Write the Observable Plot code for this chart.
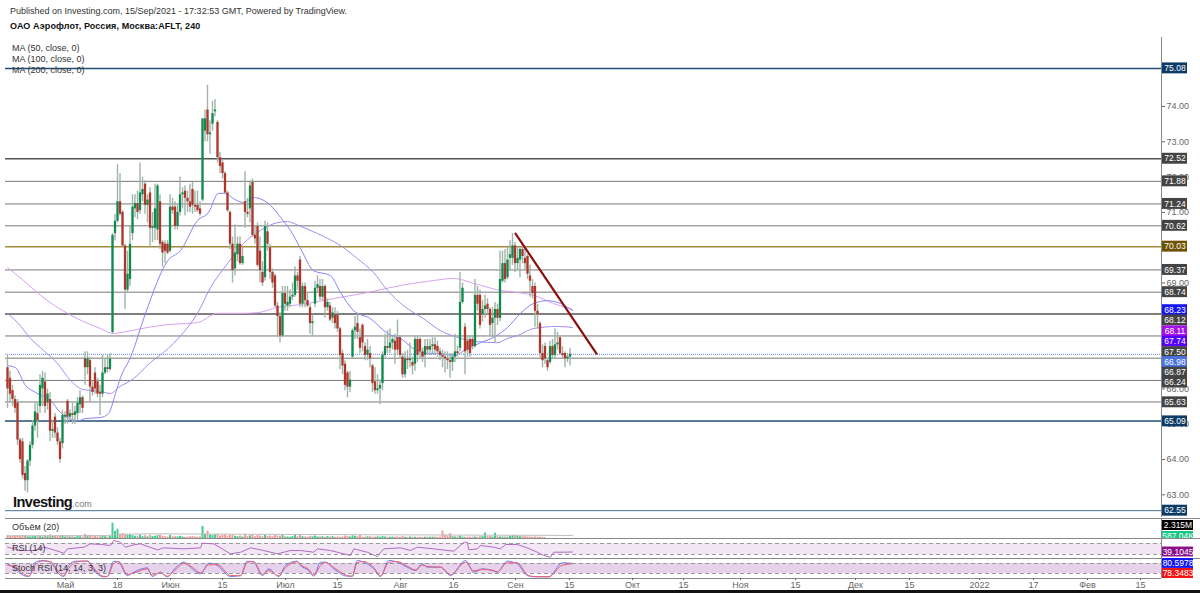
<!DOCTYPE html>
<html><head><meta charset="utf-8">
<script src="https://cdn.jsdelivr.net/npm/d3@7"></script>
<script src="https://cdn.jsdelivr.net/npm/@observablehq/plot@0.6"></script>
<style>
html,body{margin:0;padding:0;background:#fff;overflow:hidden}
#wrap{position:relative;width:1200px;height:593px;overflow:hidden;background:#fff;font-family:"Liberation Sans",Arial,sans-serif}
.p{position:absolute;left:0}
.t{position:absolute;white-space:nowrap;color:#333;font-size:9px;line-height:12px}
#bar{position:absolute;left:0;top:590px;width:1200px;height:3px;background:#111}
</style></head><body><div id="wrap">
<div class="p" id="main" style="top:37px"></div>
<div class="p" id="vol" style="top:518px"></div>
<div class="p" id="rsi" style="top:538px"></div>
<div class="p" id="stoch" style="top:558px"></div>
<div class="t" style="left:10px;top:5px;font-size:9px">Published on Investing.com, 15/Sep/2021 - 17:32:53 GMT, Powered by TradingView.</div>
<div class="t" style="left:10px;top:20px;font-weight:bold;font-size:9px;letter-spacing:.1px;color:#111">ОАО Аэрофлот, Россия, Москва:AFLT, 240</div>
<div class="t" style="left:12px;top:42px">MA (50, close, 0)</div>
<div class="t" style="left:12px;top:53px">MA (100, close, 0)</div>
<div class="t" style="left:12px;top:64px">MA (200, close, 0)</div>
<div class="t" style="left:13px;top:495px;font-size:14.6px;font-weight:bold;color:#111;letter-spacing:-.55px;line-height:14px">Investing<span style="font-size:9px;font-weight:normal;color:#777;letter-spacing:0">.com</span></div>
<div class="t" style="left:12px;top:521px">Объём (20)</div>
<div class="t" style="left:12px;top:542px">RSI (14)</div>
<div class="t" style="left:12px;top:562px">Stoch RSI (14, 14, 3, 3)</div>
<div id="bar"></div>
</div>
<script>
const opens=[66.6,66.3,65.95,65.7,65.6,64.55,64.5,63.6,63.4,63.95,
64.4,64.95,65.3,65.5,66.0,66.2,65.6,65.7,64.8,65.2,
64.75,64.5,64.45,65.2,65.65,65.2,65.3,65.25,65.3,65.55,
65.75,66.85,66.6,66.8,66.05,66.45,66.2,65.9,65.85,66.45,
66.6,66.55,
67.6,70.4,70.75,71.3,71.0,70.05,68.8,69.1,70.4,71.1,
71.25,71.05,71.5,71.8,71.2,71.55,70.55,70.55,70.5,71.3,
70.15,70.1,70.1,69.9,71.15,71.15,70.6,71.0,71.5,71.6,
71.4,71.3,71.65,71.2,71.2,71.1,71.35,73.3,73.9,73.2,
73.5,73.85,73.55,72.55,72.4,72.1,71.55,71.0,70.1,69.4,
69.8,70.1,69.55,71.3,71.0,71.1,71.85,70.35,70.6,69.9,
69.3,69.15,70.45,70.0,69.3,69.2,68.35,68.05,67.5,68.7,
68.35,68.4,68.6,68.65,69.2,
69.65,68.4,68.9,68.5,68.3,67.85,68.4,68.85,68.9,68.6,
68.9,68.3,68.35,68,68.1,68.1,67.7,67,66.7,66.45,
66.05,66.9,67.65,67.85,67.45,67.8,67.2,66.95,67,66.65,
66.2,65.95,66.0,66.15,66.95,67.2,67.15,67.3,67.35,67.45,
67.45,66.9,66.4,66.85,66.8,66.75,66.7,67.4,67.4,67.05,
66.95,67.2,67.1,67.2,67.25,67.2,67.05,66.95,66.9,66.85,
66.8,66.75,66.9,67.05,67.15,68.45,67.75,67.35,67.4,67.4,
67.2,68.65,68.65,68.1,68.25,68.4,68.25,67.85,68,68.25,
68,69.05,69.55,69.15,69.7,69.7,70.05,69.55,69.65,69.95,
69.7,69.75,69.2,68.9,68.9,68.2,67.85,67,67.2,66.8,
66.75,67.2,66.95,67.25,67.45,67.0,67,66.85,66.9];
const closes=[66.0,65.85,65.7,65.45,64.55,64.0,63.55,63.4,63.95,64.4,
64.95,65.35,65.1,66.1,66.3,65.5,65.85,64.8,64.85,64.75,
64.5,64.0,65.25,65.25,65.2,65.3,65.25,65.35,65.6,65.75,
65.45,66.6,66.85,66.05,65.9,66.0,65.85,65.85,66.45,66.6,
66.55,66.85,
70.35,70.75,71.3,70.95,70.05,68.8,69.25,70.1,71.15,71.25,
71.0,71.55,71.65,71.2,71.35,70.55,70.6,71.1,71.75,70.1,
69.85,69.9,69.85,71.15,71.05,70.6,71.0,71.5,71.55,71.4,
71.3,71.15,71.2,71.15,71.05,70.95,73.65,73.65,73.2,73.25,
73.8,73.9,72.55,72.3,72.1,71.55,71.05,70.1,69.35,69.85,
70.1,69.55,69.75,71.0,70.95,71.75,70.35,70.25,69.5,69.35,
69.0,70.6,70.1,69.3,69.0,68.35,68.05,67.5,68.7,68.4,
68.45,68.6,68.65,69.2,69.05,
68.4,68.9,68.5,68.35,67.85,67.9,68.85,68.95,68.6,68.9,
68.3,68.45,67.95,68.15,67.85,67.7,66.95,66.65,66.1,66.05,
66.25,67.65,67.75,67.6,67.15,67.3,66.95,67.1,66.85,66.15,
65.95,66.0,66.1,66.95,67.2,67.15,67.3,67.4,67.1,67.1,
66.95,66.4,66.85,66.8,66.85,66.65,67.4,66.95,67.05,66.9,
67.2,67.1,67.2,67.25,67.1,67.05,66.95,66.9,66.85,66.8,
66.75,66.9,67.05,67,68.45,68.85,67.05,67.1,67.0,67.2,
68.65,68.4,67.8,68.25,68.35,68.25,67.8,68,68.25,68.0,
69.1,69.55,69.1,69.65,69.8,70.05,69.55,69.7,69.95,69.75,
69.55,69.25,69.05,68.7,68.2,68.1,67,66.8,66.85,66.6,
67.2,66.95,67.25,67.3,67.0,66.95,66.85,66.9,66.98];
const highs=[66.95,66.5,66.1,65.8,65.7,64.6,64.6,63.8,64.0,64.5,
65.1,65.6,65.6,66.4,66.5,66.45,66,65.9,65.1,65.3,
64.9,64.6,65.4,65.35,65.7,65.4,65.6,65.5,65.75,65.95,
65.8,67.05,67.05,66.9,66.2,66.6,66.3,66.1,66.95,66.85,
66.95,67.0,
70.4,70.95,72.35,72.1,71.05,70.1,69.9,70.6,71.5,71.5,
71.6,72.4,72,71.9,71.5,71.7,71,71.8,71.8,71.5,
70.2,70.2,70.2,71.5,71.4,71.3,71.2,72,71.7,71.75,
71.6,71.8,71.85,71.6,71.6,71.3,73.65,73.9,74.6,73.6,
74.15,74.2,73.6,72.7,72.5,72.15,71.6,71.05,70.3,70.65,
70.3,70.3,70,72.15,71.4,71.9,71.95,70.6,70.7,70.3,
69.6,70.75,70.7,70.1,69.4,69.25,68.45,68.15,68.9,68.9,
68.9,68.8,69,69.45,69.3,
69.75,69.0,69,68.7,68.4,68.1,69.05,69.2,69.1,69.1,
68.95,68.55,68.45,68.3,68.3,68.2,67.75,67.1,66.8,66.5,
66.5,67.7,68.05,68.15,67.7,67.85,67.3,67.4,67.2,66.7,
66.6,66.4,66.25,67.05,67.55,67.65,67.7,67.5,67.55,67.95,
67.5,67,67.05,67.1,67.3,66.9,67.5,67.5,67.45,67.15,
67.4,67.4,67.4,67.45,67.45,67.35,67.15,67.1,67.05,67.05,
67,67,67.55,67.2,69.3,69.0,67.85,67.5,67.5,67.5,
69.1,68.9,68.8,68.5,68.65,68.55,68.3,68.3,68.45,68.4,
69.9,69.9,69.95,70,70.2,70.4,70.15,70,70.0,70.1,
70.05,69.8,69.5,69.1,69,68.4,67.9,67.25,67.3,66.85,
67.35,67.4,67.7,67.6,67.5,67.2,67.05,67.0,67.15];
const lows=[65.45,65.6,65.5,65.3,64.4,63.9,63.45,63.1,63.05,63.8,
64.3,64.8,64.6,65.3,65.5,65.3,65.4,64.5,64.6,64.6,
64.4,63.9,64.3,65.0,65.0,65.1,65.0,65.0,65.1,65.3,
65.3,66.1,66.4,65.6,65.8,65.85,65.75,65.25,65.75,66.4,
66.45,66.5,
67.55,70.2,70.7,70.9,70.0,68.25,68.7,68.9,70.2,70.85,
70.8,70.95,71.3,70.95,70.7,70.0,70.15,70.2,70.2,69.95,
69.45,69.55,69.8,69.85,70.95,70.5,70.5,70.9,71.1,70.9,
71.0,71.0,70.95,71.0,71.0,70.9,71.3,73.0,73.0,72.65,
73.3,73.7,72.4,72.1,71.95,71.5,71.0,69.95,69.0,69.2,
69.6,69.5,69.5,70.55,70.85,70.7,70.3,70.1,69.45,69.0,
68.9,69.05,69.9,69.1,68.85,68.3,67.45,67.3,67.45,68.2,
68.2,68.3,68.5,68.6,68.8,
68.3,68.3,68.3,68.3,67.55,67.5,68.3,68.7,68.5,68.5,
68.0,68.2,67.9,67.85,67.7,67.6,66.55,66.4,65.95,65.75,
65.9,66.85,67.4,67.4,67.0,67.05,66.8,66.8,66.6,65.9,
65.85,65.85,65.55,65.95,66.9,67.0,67.0,67.1,66.7,66.95,
66.85,66.3,66.3,66.55,66.6,66.4,66.5,66.75,66.85,66.75,
66.6,66.95,66.95,67,66.95,66.9,66.8,66.6,66.45,66.55,
66.3,66.5,66.75,66.9,67.05,68.4,66.4,66.9,66.9,67.1,
67.15,68.2,67.7,67.9,68.0,68.1,67.5,67.45,67.3,67.8,
67.9,69.0,69,69.1,69.35,69.5,69.3,69.35,69.15,69.55,
69.35,69.1,68.6,68.55,67.75,67.7,66.85,66.6,66.7,66.5,
66.7,66.85,66.85,67.1,66.95,66.85,66.6,66.75,66.65];
const volumes=[2.2,1.6,1.4,1.8,2.1,1.5,2.4,1.9,1.4,1.2,1.7,1.5,2.0,1.3,1.1,1.6,1.4,2.6,1.5,1.8,
1.3,1.9,2.2,1.2,1.5,1.1,1.3,1.0,1.6,1.4,1.2,3.2,1.8,2.4,1.3,1.6,1.2,1.4,1.9,1.3,
1.1,1.6,11.5,5.2,7.0,3.0,3.6,2.8,2.4,2.8,2.2,1.6,1.8,2.6,1.4,2.0,1.3,2.4,1.5,1.6,
2.2,2.6,1.8,1.4,1.2,2.4,1.3,1.4,1.2,1.6,1.2,1.0,1.1,1.3,1.5,1.1,1.0,1.2,9.0,3.2,
5.5,2.6,2.2,2.8,3.2,1.8,2.4,2.8,1.8,2.6,2.2,1.6,1.4,1.8,1.2,3.2,1.6,2.0,2.8,1.4,
2.2,1.8,1.3,2.4,1.6,1.8,1.3,2.6,1.9,1.6,2.8,1.3,1.2,1.0,1.5,2.2,1.4,2.4,1.4,1.2,
1.1,1.6,1.3,1.9,1.2,1.1,1.4,1.0,1.5,1.1,1.6,1.0,1.2,1.0,1.1,1.9,1.5,1.2,2.0,1.6,
1.4,2.2,1.1,1.0,1.3,1.4,1.0,1.1,1.3,1.0,1.6,1.2,1.0,0.9,1.1,0.9,1.2,1.0,1.5,1.0,
0.9,1.1,1.0,0.9,0.8,1.0,0.9,0.9,1.0,0.9,1.1,1.2,0.9,1.0,5.6,2.4,2.0,3.6,1.4,1.2,
1.3,1.9,1.1,1.0,0.9,1.0,1.1,1.2,1.0,1.4,1.6,4.2,1.4,1.6,1.2,4.0,1.5,1.2,1.1,1.2,
1.0,1.6,1.8,2.2,1.6,1.4,1.9,1.3,1.2,1.1,1.0,1.1,0.9,1.0,0.8,0.6];
const bars=opens.map((o,i)=>({i,o,c:closes[i],h:highs[i],l:lows[i],v:volumes[i]}));

const ma50X=[0,3.2,7.2,11.2,17.2,21.2,28.4,31.2,37.2,40.4,43.2,45.2,49.2,55.2,64,69.2,76,80.4,84.4,87.2,90.4,94.4,98.4,105.2,109.2,113.2,117.2,122.4,129.2,133.2,138.4,145.2,152,157.2,162.4,168,173.2,178.4,184,189.2,194.4,200,205.2,210.4,216,221.2,226];
const ma50=[66.66,66.60,66.10,65.90,65.67,65.33,65.10,65.16,65.19,65.30,65.87,66.32,66.89,68.14,69.62,69.92,70.77,71.00,71.54,71.54,71.39,71.28,71.42,71.20,70.86,70.49,69.98,69.35,69.21,68.73,68.22,67.99,67.57,67.43,67.14,67.00,67.00,66.95,67.14,67.31,67.46,67.74,68.14,68.42,68.50,68.42,68.22];
const ma100X=[0,4,9.2,14.4,20,25.2,30.4,37.2,41.2,44.4,50.4,57.2,62.4,70.4,76,81.2,88,94.4,101.2,108,112,116.4,124,133.2,140,146.4,152,158.4,166.4,173.2,180,188,196,200,204,210.4,220,226];
const ma100=[68.14,67.88,67.43,67.09,66.72,66.24,65.98,65.93,65.87,66.04,66.29,66.75,67.03,67.60,68.14,68.87,69.55,70.12,70.49,70.71,70.74,70.63,70.40,70.06,69.69,69.30,68.79,68.36,67.99,67.65,67.46,67.34,67.31,67.43,67.51,67.71,67.77,67.74];
const ma200X=[0,6.4,13.2,20,28,37.2,42,48,56,64,76,84,93.2,100,108,117.2,130.4,144,157.2,170.4,178.4,186.4,197.2,204,210.4,218.4,226];
const ma200=[69.44,69.07,68.65,68.31,67.99,67.71,67.57,67.63,67.74,67.82,67.88,68.14,68.14,68.16,68.31,68.39,68.56,68.73,68.93,69.07,69.13,68.99,68.79,68.73,68.65,68.42,68.25];

const levels=[75.08,72.52,71.88,71.24,70.62,70.03,69.37,68.74,68.12,67.50,66.87,66.24,65.63,65.09,62.55];
const levelColors=["#1f4e79","#555","#777","#777","#777","#a08a3c","#777","#777","#555","#777","#777","#777","#777","#1f4e79","#4a6f94"];
const levelWidths=[1.5,1.4,1,1,1,1.5,1,1,1.5,1,1,1,1,1.5,1];
const trendX=[203.2,235.6], trendY=[70.4,67.0];
const lastPrice=66.98;

const priceTicks=[63,64,65,66,69,71,72,73,74];
const labelText=["75.08","72.52","71.88","71.24","70.62","70.03","69.37","68.74","68.23","68.12","68.11","67.74","67.50","66.98","66.87","66.24","65.63","65.09","62.55"];
const labelPos=[75.08,72.52,71.88,71.24,70.62,70.03,69.37,68.74,68.23,67.94,67.63,67.34,67.04,66.76,66.46,66.18,65.62,65.08,62.55];
const labelColor=["#0d3a66","#444","#444","#444","#444","#6e5200","#444","#444","#1414f5","#444","#a50fe8","#5500ff","#444","#4a72e0","#444","#444","#444","#0d3a66","#0d3a66"];

const timeTicks=[23.2,44,65.2,86,111.2,132,157.2,178.4,203.2,224.8,250,270.4,293.2,315.2,339.2,360.8,388.8,410.4,432,453.2];
const timeLabels=["Май","18","Июн","15","Июл","15","Авг","16","Сен","15","Окт","15","Ноя","15","Дек","15","2022","17","Фев","15"];

const volMAX=[0,40,44,60,80,120,180,226], volMA=[2,2.2,3.2,3.5,3.3,3,2.6,2.3];
const volLabelText=["2.315M","587.04K"], volLabelPos=[9.75,1.5], volLabelColor=["#000","#16c784"];

const rsiX=[0,5.2,10.5,14.5,18.5,22.5,23.9,30.5,33.2,37.2,41.2,42.5,45.2,47.2,50.5,53.2,59.9,62.5,70.5,77.2,77.9,82.5,86.5,89.2,93.2,97.2,102.5,107.9,113.2,117.2,122.5,123.9,129.2,134.5,137.2,138.5,143.9,147.9,150.5,157.2,161.2,163.9,170.5,178.5,181.9,182.5,183.9,184.5,187.9,189.2,194.5,197.2,199.2,203.9,207.9,211.9,214.5,217.2,218.5,222.5,225.9];
const rsi=[56.6,44.5,44.5,56.6,47,34.8,50.6,56.6,68.8,66.4,62.7,80.9,74.8,56.6,65.2,68.8,47,54.2,50.6,54.2,71,68.8,47,32.4,38.4,54.2,44.5,32.4,44.5,44.5,38.4,50.6,44.5,32.4,26.4,50.6,38.4,22.7,50.6,54.2,44.5,56.6,50.6,42,68.8,74.8,74.8,47,50.6,62.7,56.6,50.6,66.4,66.4,54.2,38.4,26.4,20.2,38.4,38.4,39.1];

const stochX=[0,3.2,6.5,8.5,11.2,13.9,17.2,20.5,22.5,24.5,27.2,31.9,33.5,35.9,38.5,39.9,42.5,44.5,47.9,50.5,55.9,57.9,61.2,63.9,67.2,70.5,73.9,77.2,80.5,83.9,89.2,93.2,95.9,98.5,101.9,104.5,108.5,111.2,115.9,117.2,120.5,122.5,125.2,127.2,130.5,135.9,137.9,139.9,142.5,146.5,149.2,152.5,155.9,159.9,163.2,165.9,167.9,173.2,177.2,183.2,186.5,189.9,193.9,195.9,199.9,203.9,207.9,210.5,216.5,221.9,225.9];
const stochK=[78,48,8,2,88,98,88,18,2,68,94,94,68,18,0,2,94,88,8,28,54,2,28,0,54,88,48,18,82,68,2,8,94,88,8,48,2,68,94,68,38,4,88,88,48,4,4,98,88,48,2,98,88,58,38,78,58,58,8,98,28,48,38,28,94,78,8,0,0,84,80.6];
const stochD=[70,60,18,4,70,95,92,30,6,50,88,95,75,28,3,2,80,92,15,22,48,10,24,4,42,80,58,24,72,74,8,6,86,92,15,38,6,55,90,72,44,10,68,86,56,8,3,85,92,56,6,86,92,64,42,70,62,58,14,88,36,44,40,30,84,84,14,2,0,70,78.3];
const rsiLabel="39.1045", stochLabels=["80.5978","78.3483"], stochLabelPos=[80.6,20], stochLabelColor=["#1414f5","#f51414"];

const FONT='"Liberation Sans",Arial,sans-serif';
const W=1200, xDom=[-0.8,461.6], labelL=462, labelR=472, farR=477.2;
const base={width:W,marginLeft:5,marginRight:39,marginTop:0,marginBottom:0,style:{fontFamily:FONT,background:"transparent"},
  x:{domain:xDom,axis:null}};
const rows=(xs,ys)=>xs.map((x,k)=>({x,y:ys[k]}));
const GREEN="#0f8a4f",RED="#ad352a",WICK="#9fb3a7";

const mainPlot=Plot.plot({...base,height:480,
  y:{domain:[62.357,75.955],axis:null},
  marks:[
    Plot.axisY({anchor:"right",ticks:priceTicks,tickFormat:d3.format(".2f"),tickSize:3,tickPadding:2,fontSize:9,color:"#666",label:null}),
    Plot.ruleY(levels.map((v,k)=>({v,c:levelColors[k],w:levelWidths[k]})),{y:"v",stroke:d=>d.c,strokeWidth:d=>d.w}),
    Plot.ruleY([lastPrice],{stroke:"#5a7fe0",strokeDasharray:"1 1",strokeWidth:1}),
    Plot.line(rows(ma200X,ma200),{x:"x",y:"y",stroke:"#d9a0f5",strokeWidth:1,curve:"monotone-x"}),
    Plot.line(rows(ma100X,ma100),{x:"x",y:"y",stroke:"#a58cf5",strokeWidth:1,curve:"monotone-x"}),
    Plot.line(rows(ma50X,ma50),{x:"x",y:"y",stroke:"#8585f5",strokeWidth:1,curve:"monotone-x"}),
    Plot.ruleX(bars,{x:"i",y1:"l",y2:"h",stroke:WICK,strokeWidth:1.4}),
    Plot.ruleX(bars.filter(d=>d.c>=d.o),{x:"i",y1:"o",y2:"c",stroke:GREEN,strokeWidth:2.3}),
    Plot.ruleX(bars.filter(d=>d.c<d.o),{x:"i",y1:"o",y2:"c",stroke:RED,strokeWidth:2.3}),
    Plot.line(rows(trendX,trendY),{x:"x",y:"y",stroke:"#8b0f0f",strokeWidth:2.2}),
    Plot.ruleX([xDom[1]],{stroke:"#888",strokeWidth:1}),
    Plot.rect(labelText.map((t,k)=>({p:labelPos[k],c:labelColor[k]})),{x1:labelL,x2:labelR,y1:d=>d.p-0.155,y2:d=>d.p+0.155,fill:d=>d.c}),
    Plot.text(labelText.map((t,k)=>({t,p:labelPos[k]})),{x:(labelL+labelR)/2,y:"p",text:"t",fill:"#fff",fontSize:8.5})
  ]});
document.getElementById("main").append(mainPlot);

const volPlot=Plot.plot({...base,height:20,
  y:{domain:[0,15],axis:null},
  marks:[
    Plot.ruleY([15],{x1:xDom[0],x2:farR,y:15,stroke:"#888"}),
    Plot.ruleX(bars.filter(d=>d.c>=d.o),{x:"i",y1:0,y2:"v",stroke:"#3fcf94",strokeWidth:2}),
    Plot.ruleX(bars.filter(d=>d.c<d.o),{x:"i",y1:0,y2:"v",stroke:"#f0a09a",strokeWidth:2}),
    Plot.line(rows(volMAX,volMA),{x:"x",y:"y",stroke:"#bdbdbd",strokeWidth:1}),
    Plot.ruleX([xDom[1]],{stroke:"#888"}),
    Plot.rect(volLabelText.map((t,k)=>({p:volLabelPos[k],c:volLabelColor[k]})),{x1:labelL,x2:474.4,y1:d=>d.p-3.75,y2:d=>d.p+3.75,fill:d=>d.c}),
    Plot.text(volLabelText.map((t,k)=>({t,p:volLabelPos[k]})),{x:468.2,y:"p",text:"t",fill:"#fff",fontSize:8.5})
  ]});
document.getElementById("vol").append(volPlot);

const rsiPlot=Plot.plot({...base,height:20,
  y:{domain:[15.5,88.2],axis:null},
  marks:[
    Plot.rect([{a:30,b:70}],{x1:xDom[0],x2:xDom[1],y1:"a",y2:"b",fill:"#f3e6f5"}),
    Plot.ruleY([88.2],{x1:xDom[0],x2:farR,y:88.2,stroke:"#888"}),
    Plot.ruleY([30,70],{stroke:"#999",strokeDasharray:"4 3"}),
    Plot.line(rows(rsiX,rsi),{x:"x",y:"y",stroke:"#b06cc0",strokeWidth:1}),
    Plot.ruleX([xDom[1]],{stroke:"#888"}),
    Plot.rect([{p:39.1}],{x1:labelL,x2:474.4,y1:d=>d.p-18,y2:d=>d.p+18,fill:"#8b0f8b"}),
    Plot.text([{t:rsiLabel,p:39.1}],{x:468.2,y:"p",text:"t",fill:"#fff",fontSize:8.5})
  ]});
document.getElementById("rsi").append(rsiPlot);

const stochPlot=Plot.plot({...base,height:32,marginBottom:12,
  y:{domain:[-10,110],axis:null},
  marks:[
    Plot.rect([{a:20,b:80}],{x1:xDom[0],x2:xDom[1],y1:"a",y2:"b",fill:"#e6d2ea"}),
    Plot.ruleY([110],{x1:xDom[0],x2:farR,y:110,stroke:"#888"}),
    Plot.ruleY([20,80],{stroke:"#999",strokeDasharray:"4 3"}),
    Plot.ruleY([-10],{stroke:"#888"}),
    Plot.line(rows(stochX,stochK),{x:"x",y:"y",stroke:"#6a78f2",strokeWidth:1,curve:"monotone-x"}),
    Plot.line(rows(stochX,stochD),{x:"x",y:"y",stroke:"#f25c6c",strokeWidth:1,curve:"monotone-x"}),
    Plot.axisX({ticks:timeTicks,tickFormat:(d)=>timeLabels[timeTicks.indexOf(d)],tickSize:2,tickPadding:1,fontSize:9,color:"#666",label:null}),
    Plot.ruleX([xDom[1]],{y1:-10,y2:110,stroke:"#888"}),
    Plot.rect(stochLabels.map((t,k)=>({p:stochLabelPos[k],c:stochLabelColor[k]})),{x1:labelL,x2:474.4,y1:d=>d.p-30,y2:d=>d.p+30,fill:d=>d.c}),
    Plot.text(stochLabels.map((t,k)=>({t,p:stochLabelPos[k]})),{x:468.2,y:"p",text:"t",fill:"#fff",fontSize:8.5})
  ]});
document.getElementById("stoch").append(stochPlot);
</script></body></html>
